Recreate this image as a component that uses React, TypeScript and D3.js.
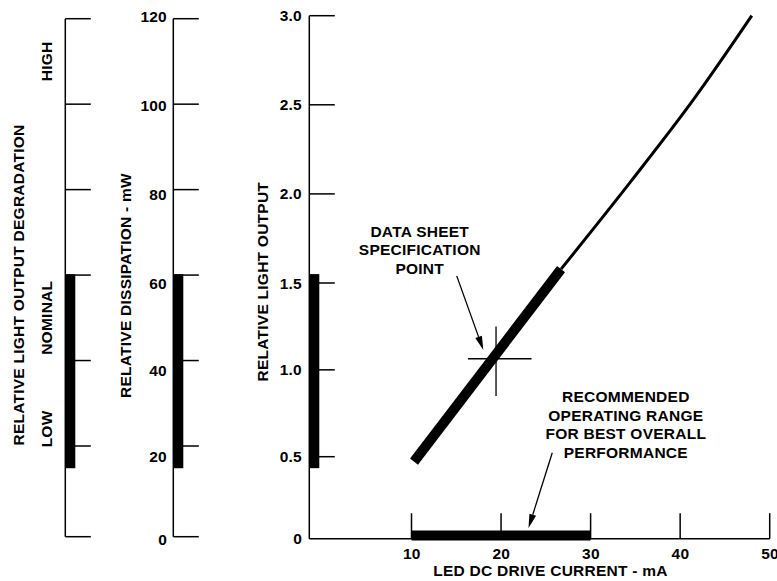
import React from 'react';
import * as d3 from 'd3';

// ---- data ----
const currentTicks = [10, 20, 30, 40, 50];
const lightTicks = [0, 0.5, 1.0, 1.5, 2.0, 2.5, 3.0];
const lightTickLabels = ['0', '0.5', '1.0', '1.5', '2.0', '2.5', '3.0'];
const dissipationTicks = [0, 20, 40, 60, 80, 100, 120];
const degradationLevels = ['HIGH', 'NOMINAL', 'LOW'];
const degradationLevelAt = [110, 50, 24];
const dissipationBand = [15.1, 60.2];
const lightBand = [0.43, 1.55];
const currentBand = [10, 30];
const thickCurrent = [10.28, 26.7];
const thickLight = [0.47, 1.578];
const thinCurrent = [26.7, 34.5, 41.5, 48.0];
const thinLight = [1.578, 2.07, 2.53, 3.0];
const specPoint = [19.44, 1.064];
const specCrossX = [16.3, 23.4];
const specCrossY = [0.85, 1.25];
const specArrow = [[15.05, 1.54], [18.02, 1.114]];
const rangeArrow = [[25.72, 0.523], [23.07, 0.065]];
const specLabel = ['DATA SHEET', 'SPECIFICATION', 'POINT'];
const specLabelAt = [10.92, 1.686];
const rangeLabel = ['RECOMMENDED', 'OPERATING RANGE', 'FOR BEST OVERALL', 'PERFORMANCE'];
const rangeLabelAt = [33.93, 0.685];

const W = 777;
const H = 581;
const fontStyle: React.CSSProperties = {
  fontFamily: '"Liberation Sans", Arial, Helvetica, sans-serif',
  fontWeight: 'bold',
  fontSize: '15.5px',
  letterSpacing: '0.25px',
};

function T(props: any) {
  const { children, ...rest } = props;
  return (
    <text {...rest} fill="#000" style={fontStyle}>
      {children}
    </text>
  );
}

function Arrow({ from, to, x, y }: any) {
  const x1 = x(from[0]), y1 = y(from[1]);
  const x2 = x(to[0]), y2 = y(to[1]);
  const ang = Math.atan2(y2 - y1, x2 - x1);
  const L = 14, hw = 3.5;
  const bx = x2 - L * Math.cos(ang), by = y2 - L * Math.sin(ang);
  const px = -Math.sin(ang) * hw, py = Math.cos(ang) * hw;
  return (
    <g>
      <line x1={x1} y1={y1} x2={bx} y2={by} stroke="#000" strokeWidth={1.3} />
      <polygon points={`${x2},${y2} ${bx + px},${by + py} ${bx - px},${by - py}`} fill="#000" />
    </g>
  );
}

export default function App() {
  // main chart scales
  const x = d3.scaleLinear().domain([10, 50]).range([411.5, 769.7]);
  const y = d3.scaleLinear().domain([0, 0.5, 1.5, 3]).range([538.7, 456.7, 283, 15.7]);
  // left dissipation scales (ticks and labels as drawn)
  const yd = d3.scaleLinear().domain([0, 20, 120]).range([536.7, 446, 18.7]);
  const ydLabel = d3.scaleLinear().domain([0, 20, 60, 120]).range([539.3, 456.7, 283.3, 16.7]);

  const axisX = 309.3;
  const degX = 65.3;
  const disX = 173.3;
  const tickLen = 25.5;
  const barW = 10;

  const thickLine = d3.line<number>().x((d) => x(d)).y((_, i) => y(thickLight[i]));
  const thinLine = d3
    .line<number>()
    .x((d) => x(d))
    .y((_, i) => y(thinLight[i]))
    .curve(d3.curveMonotoneX);

  const sx = x(specPoint[0]);
  const sy = y(specPoint[1]);

  return (
    <svg
      width={W}
      height={H}
      viewBox={`0 0 ${W} ${H}`}
      style={{ position: 'absolute', left: 0, top: 0, background: '#fff' }}
    >
      <rect x={0} y={0} width={W} height={H} fill="#fff" />

      {/* Degradation axis */}
      <line x1={degX} y1={yd(120)} x2={degX} y2={yd(0)} stroke="#000" strokeWidth={1.5} />
      {dissipationTicks.map((t) => (
        <line key={'dg' + t} x1={degX} x2={degX + tickLen} y1={yd(t)} y2={yd(t)} stroke="#000" strokeWidth={1.5} />
      ))}
      <rect x={degX} y={yd(dissipationBand[1])} width={barW} height={yd(dissipationBand[0]) - yd(dissipationBand[1])} fill="#000" />
      <T textAnchor="middle" transform={`translate(24,285) rotate(-90)`}>
        RELATIVE LIGHT OUTPUT DEGRADATION
      </T>
      {degradationLevels.map((s, i) => (
        <T key={s} textAnchor="middle" transform={`translate(52,${yd(degradationLevelAt[i])}) rotate(-90)`}>
          {s}
        </T>
      ))}

      {/* Dissipation axis */}
      <line x1={disX} y1={yd(120)} x2={disX} y2={yd(0)} stroke="#000" strokeWidth={1.5} />
      {dissipationTicks.map((t) => (
        <g key={'ds' + t}>
          <line x1={disX} x2={disX + tickLen} y1={yd(t)} y2={yd(t)} stroke="#000" strokeWidth={1.5} />
          <T x={167} y={ydLabel(t)} dy="0.36em" textAnchor="end">
            {t}
          </T>
        </g>
      ))}
      <rect x={disX} y={yd(dissipationBand[1])} width={barW} height={yd(dissipationBand[0]) - yd(dissipationBand[1])} fill="#000" />
      <T textAnchor="middle" transform={`translate(131,285.5) rotate(-90)`}>
        RELATIVE DISSIPATION - mW
      </T>

      {/* Main chart axes */}
      <line x1={axisX} y1={y(3)} x2={axisX} y2={y(0)} stroke="#000" strokeWidth={1.5} />
      <line x1={axisX} y1={y(0)} x2={x(50)} y2={y(0)} stroke="#000" strokeWidth={1.5} />
      {lightTicks.map((t, i) => (
        <g key={'lt' + t}>
          {t > 0 && <line x1={axisX} x2={axisX + tickLen} y1={y(t)} y2={y(t)} stroke="#000" strokeWidth={1.5} />}
          <T x={302} y={y(t)} dy="0.36em" textAnchor="end">
            {lightTickLabels[i]}
          </T>
        </g>
      ))}
      {currentTicks.map((t) => (
        <g key={'ct' + t}>
          <line x1={x(t)} x2={x(t)} y1={y(0)} y2={y(0) - tickLen} stroke="#000" strokeWidth={1.5} />
          <T x={x(t) + 0.3} y={553.3} dy="0.36em" textAnchor="middle">
            {t}
          </T>
        </g>
      ))}
      <rect x={axisX} y={y(lightBand[1])} width={barW} height={y(lightBand[0]) - y(lightBand[1])} fill="#000" />
      <rect x={x(currentBand[0])} y={y(0) - 8.2} width={x(currentBand[1]) - x(currentBand[0])} height={10} fill="#000" />

      <T textAnchor="middle" transform={`translate(268.3,281.7) rotate(-90)`}>
        RELATIVE LIGHT OUTPUT
      </T>
      <T x={550.5} y={570} dy="0.36em" textAnchor="middle">
        LED DC DRIVE CURRENT - mA
      </T>

      {/* Curve */}
      <path d={thickLine(thickCurrent) || ''} fill="none" stroke="#000" strokeWidth={10} strokeLinecap="butt" />
      <path d={thinLine(thinCurrent) || ''} fill="none" stroke="#000" strokeWidth={3} strokeLinecap="butt" />

      {/* Spec point crosshair */}
      <line x1={x(specCrossX[0])} x2={x(specCrossX[1])} y1={sy} y2={sy} stroke="#000" strokeWidth={1.3} />
      <line x1={sx} x2={sx} y1={y(specCrossY[1])} y2={y(specCrossY[0])} stroke="#000" strokeWidth={1.3} />

      {/* Annotations */}
      {specLabel.map((s, i) => (
        <T key={s} x={x(specLabelAt[0])} y={y(specLabelAt[1]) + (i - 1) * 18.9} dy="0.36em" textAnchor="middle">
          {s}
        </T>
      ))}
      <Arrow from={specArrow[0]} to={specArrow[1]} x={x} y={y} />
      {rangeLabel.map((s, i) => (
        <T key={s} x={x(rangeLabelAt[0])} y={y(rangeLabelAt[1]) + (i - 1.5) * 18.6} dy="0.36em" textAnchor="middle">
          {s}
        </T>
      ))}
      <Arrow from={rangeArrow[0]} to={rangeArrow[1]} x={x} y={y} />
    </svg>
  );
}
